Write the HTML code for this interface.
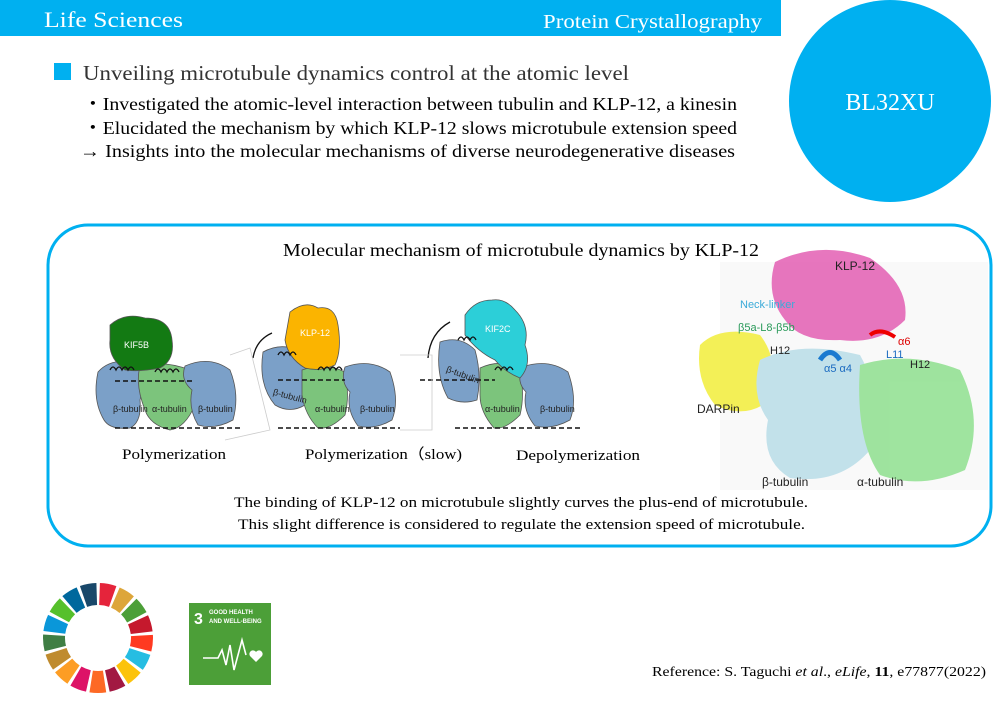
<!DOCTYPE html>
<html><head><meta charset="utf-8"><style>
html,body{margin:0;padding:0;background:#fff;width:999px;height:703px;overflow:hidden}
text{font-family:"Liberation Serif",serif}
.s{font-family:"Liberation Sans",sans-serif}
</style></head><body>
<svg width="999" height="703" viewBox="0 0 999 703" xmlns="http://www.w3.org/2000/svg">
<rect x="0" y="0" width="781" height="36" fill="#00b0f0"/>
<text x="44" y="27" font-size="22" fill="#fff" textLength="139" lengthAdjust="spacingAndGlyphs">Life Sciences</text>
<text x="543" y="28" font-size="20" fill="#fff" textLength="219" lengthAdjust="spacingAndGlyphs">Protein Crystallography</text>
<circle cx="890" cy="101" r="101" fill="#00b0f0"/>
<text x="890" y="110" font-size="24" fill="#fff" text-anchor="middle">BL32XU</text>
<rect x="54" y="63" width="17" height="17" fill="#00b0f0"/>
<text x="83" y="80" font-size="21" fill="#333" textLength="546" lengthAdjust="spacingAndGlyphs">Unveiling microtubule dynamics control at the atomic level</text>
<text x="83" y="110" font-size="18" fill="#000" textLength="654" lengthAdjust="spacingAndGlyphs">・Investigated the atomic-level interaction between tubulin and KLP-12, a kinesin</text>
<text x="83" y="134" font-size="18" fill="#000" textLength="654" lengthAdjust="spacingAndGlyphs">・Elucidated the mechanism by which KLP-12 slows microtubule extension speed</text>
<text x="80" y="157" font-size="18" fill="#000" textLength="655" lengthAdjust="spacingAndGlyphs">→ Insights into the molecular mechanisms of diverse neurodegenerative diseases</text>
<rect x="48" y="225" width="943" height="321" rx="40" fill="none" stroke="#00b0f0" stroke-width="3"/>
<!-- protein structure -->
<rect x="720" y="262" width="268" height="228" fill="#f9f9f9"/>
<g opacity="0.85">
<path d="M700,345 Q720,325 760,335 Q780,360 770,400 Q745,420 715,405 Q695,380 700,345Z" fill="#f2ee3a"/>
<path d="M760,360 Q800,340 860,355 Q885,400 870,450 Q840,485 790,478 Q760,460 768,420 Q750,395 760,360Z" fill="#b9dde8"/>
<path d="M860,365 Q910,350 960,370 Q985,420 965,470 Q920,490 880,475 Q855,440 860,365Z" fill="#8fe08f"/>
<path d="M775,262 Q820,240 870,258 Q910,285 905,320 Q880,345 840,340 Q800,342 785,320 Q765,295 775,262Z" fill="#e35fb3"/>
</g>
<path d="M870,335 q10,-8 25,2" stroke="#e00" stroke-width="4" fill="none"/>
<path d="M820,360 q10,-15 20,0" stroke="#1a7ad0" stroke-width="5" fill="none"/>
<g class="s" font-size="11">
<text x="835" y="270" class="s" fill="#222" font-size="12">KLP-12</text>
<text x="740" y="308" class="s" fill="#3aaad8">Neck-linker</text>
<text x="738" y="331" class="s" fill="#2a9a5a">β5a-L8-β5b</text>
<text x="770" y="354" class="s" fill="#222">H12</text>
<text x="697" y="413" class="s" fill="#222" font-size="12">DARPin</text>
<text x="762" y="486" class="s" fill="#222" font-size="12">β-tubulin</text>
<text x="857" y="486" class="s" fill="#222" font-size="12">α-tubulin</text>
<text x="910" y="368" class="s" fill="#222">H12</text>
<text x="898" y="345" class="s" fill="#d00">α6</text>
<text x="886" y="358" class="s" fill="#1a6ac0">L11</text>
<text x="824" y="372" class="s" fill="#1a6ac0">α5 α4</text>
</g>
<text x="283" y="256" font-size="18" fill="#000" textLength="476" lengthAdjust="spacingAndGlyphs">Molecular mechanism of microtubule dynamics by KLP-12</text>
<!-- Panels -->
<g stroke="#555" stroke-width="0.8">
<path d="M98,372 Q110,358 135,362 Q146,378 140,400 Q142,422 130,428 Q110,430 104,420 Q92,400 98,372Z" fill="#7ba0c8"/>
<path d="M140,366 Q165,360 190,370 Q200,390 195,405 Q185,428 170,430 Q150,425 145,410 Q135,385 140,366Z" fill="#7cc47c"/>
<path d="M185,366 Q210,355 230,370 Q240,395 233,420 Q215,430 198,425 Q188,408 192,390 Q180,380 185,366Z" fill="#7ba0c8"/>
<path d="M110,325 Q125,312 145,318 Q170,318 172,340 Q175,360 160,368 Q140,372 125,370 Q108,358 110,340 Z" fill="#137a13"/>
<path d="M263,352 Q285,340 305,355 Q312,380 305,405 Q290,414 275,405 Q258,385 263,352Z" fill="#7ba0c8"/>
<path d="M302,370 Q325,362 345,372 Q350,395 345,415 Q330,430 318,428 Q305,415 302,395Z" fill="#7cc47c"/>
<path d="M345,367 Q370,358 390,372 Q400,400 392,420 Q375,430 358,426 Q346,410 350,392 Q340,382 345,367Z" fill="#7ba0c8"/>
<path d="M290,312 Q305,300 318,308 Q335,305 338,325 Q342,350 335,365 Q320,372 305,368 Q288,358 285,340 Z" fill="#fbb400"/>
<path d="M440,342 Q460,335 475,350 Q482,375 477,400 Q462,405 448,398 Q435,375 440,342Z" fill="#7ba0c8"/>
<path d="M480,368 Q502,358 520,370 Q525,395 520,415 Q505,430 494,428 Q480,412 480,395Z" fill="#7cc47c"/>
<path d="M522,367 Q548,358 568,372 Q578,400 570,420 Q552,430 535,426 Q522,410 526,392 Q516,382 522,367Z" fill="#7ba0c8"/>
<path d="M465,315 Q475,300 492,300 Q505,298 515,310 Q530,325 525,345 Q532,365 520,378 Q505,372 495,360 Q478,352 465,335Z" fill="#2ccfd8"/>
</g>
<g stroke="#111" stroke-width="1.5" stroke-dasharray="5,3" fill="none">
<line x1="115" y1="381" x2="195" y2="381"/><line x1="115" y1="428" x2="240" y2="428"/>
<line x1="278" y1="380" x2="345" y2="380"/><line x1="278" y1="428" x2="400" y2="428"/>
<line x1="420" y1="380" x2="495" y2="380"/><line x1="455" y1="428" x2="580" y2="428"/>
</g>
<g stroke="#111" stroke-width="1.3" fill="none">
<path d="M110,370 q3,-6 6,0 q3,-6 6,0 q3,-6 6,0 q3,-6 6,0"/>
<path d="M155,372 q3,-6 6,0 q3,-6 6,0 q3,-6 6,0 q3,-6 6,0"/>
<path d="M278,355 q3,-6 6,0 q3,-6 6,0 q3,-6 6,0"/>
<path d="M318,370 q3,-6 6,0 q3,-6 6,0 q3,-6 6,0 q3,-6 6,0"/>
<path d="M458,340 q3,-6 6,0 q3,-6 6,0 q3,-6 6,0"/>
<path d="M495,370 q3,-6 6,0 q3,-6 6,0 q3,-6 6,0"/>
<path d="M253,358 Q256,340 272,333"/><path d="M428,358 Q430,333 450,322"/>
</g>
<g stroke="#ccc" stroke-width="0.8" fill="none"><path d="M230,355 L250,348 L270,430 L225,440"/><path d="M400,355 L432,355 L432,430 L400,430"/></g>
<g class="s" font-size="9" fill="#222">
<text x="113" y="412" class="s">β-tubulin</text><text x="152" y="412" class="s">α-tubulin</text><text x="198" y="412" class="s">β-tubulin</text>
<text x="272" y="398" class="s" transform="rotate(15 285 398)">β-tubulin</text><text x="315" y="412" class="s">α-tubulin</text><text x="360" y="412" class="s">β-tubulin</text>
<text x="445" y="375" class="s" transform="rotate(20 455 375)">β-tubulin</text><text x="485" y="412" class="s">α-tubulin</text><text x="540" y="412" class="s">β-tubulin</text>
<text x="124" y="348" class="s" fill="#fff">KIF5B</text><text x="300" y="336" class="s" fill="#fff">KLP-12</text><text x="485" y="332" class="s" fill="#fff">KIF2C</text>
</g>
<text x="122" y="459" font-size="15" textLength="104" lengthAdjust="spacingAndGlyphs">Polymerization</text>
<text x="305" y="459" font-size="15" textLength="157" lengthAdjust="spacingAndGlyphs">Polymerization（slow)</text>
<text x="516" y="460" font-size="15" textLength="124" lengthAdjust="spacingAndGlyphs">Depolymerization</text>
<text x="234" y="507" font-size="15" textLength="574" lengthAdjust="spacingAndGlyphs">The binding of KLP-12 on microtubule slightly curves the plus-end of microtubule.</text>
<text x="238" y="529" font-size="15" textLength="567" lengthAdjust="spacingAndGlyphs">This slight difference is considered to regulate the extension speed of microtubule.</text>
<!-- SDG wheel -->
<g fill="none" stroke-width="22">
<circle cx="98" cy="638" r="44" stroke="#E5243B" stroke-dasharray="13.5 300" transform="rotate(-88 98 638)"/>
<circle cx="98" cy="638" r="44" stroke="#DDA63A" stroke-dasharray="13.5 300" transform="rotate(-66.8 98 638)"/>
<circle cx="98" cy="638" r="44" stroke="#4C9F38" stroke-dasharray="13.5 300" transform="rotate(-45.6 98 638)"/>
<circle cx="98" cy="638" r="44" stroke="#C5192D" stroke-dasharray="13.5 300" transform="rotate(-24.5 98 638)"/>
<circle cx="98" cy="638" r="44" stroke="#FF3A21" stroke-dasharray="13.5 300" transform="rotate(-3.3 98 638)"/>
<circle cx="98" cy="638" r="44" stroke="#26BDE2" stroke-dasharray="13.5 300" transform="rotate(17.9 98 638)"/>
<circle cx="98" cy="638" r="44" stroke="#FCC30B" stroke-dasharray="13.5 300" transform="rotate(39.1 98 638)"/>
<circle cx="98" cy="638" r="44" stroke="#A21942" stroke-dasharray="13.5 300" transform="rotate(60.2 98 638)"/>
<circle cx="98" cy="638" r="44" stroke="#FD6925" stroke-dasharray="13.5 300" transform="rotate(81.4 98 638)"/>
<circle cx="98" cy="638" r="44" stroke="#DD1367" stroke-dasharray="13.5 300" transform="rotate(102.6 98 638)"/>
<circle cx="98" cy="638" r="44" stroke="#FD9D24" stroke-dasharray="13.5 300" transform="rotate(123.8 98 638)"/>
<circle cx="98" cy="638" r="44" stroke="#BF8B2E" stroke-dasharray="13.5 300" transform="rotate(144.9 98 638)"/>
<circle cx="98" cy="638" r="44" stroke="#3F7E44" stroke-dasharray="13.5 300" transform="rotate(166.1 98 638)"/>
<circle cx="98" cy="638" r="44" stroke="#0A97D9" stroke-dasharray="13.5 300" transform="rotate(187.3 98 638)"/>
<circle cx="98" cy="638" r="44" stroke="#56C02B" stroke-dasharray="13.5 300" transform="rotate(208.5 98 638)"/>
<circle cx="98" cy="638" r="44" stroke="#00689D" stroke-dasharray="13.5 300" transform="rotate(229.6 98 638)"/>
<circle cx="98" cy="638" r="44" stroke="#19486A" stroke-dasharray="13.5 300" transform="rotate(250.8 98 638)"/>
</g>
<rect x="189" y="603" width="82" height="82" fill="#4c9f38"/>
<text x="194" y="624" class="s" font-size="16" font-weight="bold" fill="#fff">3</text>
<text x="209" y="614" class="s" font-size="6" font-weight="bold" fill="#fff">GOOD HEALTH</text>
<text x="209" y="623" class="s" font-size="6" font-weight="bold" fill="#fff">AND WELL-BEING</text>
<path d="M203,658 L218,658 L222,650 L226,665 L230,645 L234,670 L242,640 L246,655" stroke="#fff" stroke-width="1.6" fill="none"/>
<path d="M256,662 l-6,-6 a3,3 0 0 1 6,-4 a3,3 0 0 1 6,4 z" fill="#fff"/>
<text x="652" y="676" font-size="14" fill="#000" textLength="334" lengthAdjust="spacingAndGlyphs">Reference: S. Taguchi <tspan font-style="italic">et al</tspan>., <tspan font-style="italic">eLife</tspan>, <tspan font-weight="bold">11</tspan>, e77877(2022)</text>
</svg>
</body></html>
